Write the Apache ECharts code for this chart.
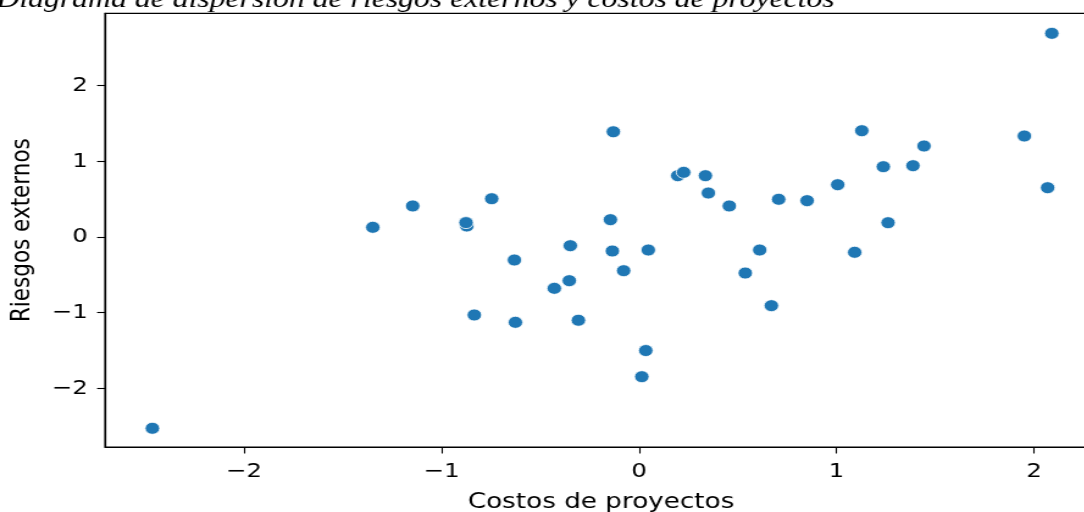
<!DOCTYPE html>
<html>
<head>
<meta charset="utf-8">
<script src="https://cdn.jsdelivr.net/npm/echarts@6/dist/echarts.min.js"></script>
<style>
  html, body { margin: 0; padding: 0; background: #fff; overflow: hidden; width: 1084px; height: 512px; }
  /* the figure is drawn slightly narrower and widened horizontally, as in the printed figure */
  #chart { width: 920px; height: 512px; transform: scaleX(1.22); transform-origin: 0 0; }
</style>
</head>
<body>
<div id="chart"></div>
<script>
// Costos de proyectos (x) and Riesgos externos (y), standardised values
const costos = [
  -2.464, -1.348, -1.146, -0.872, -0.876, -0.746, -0.834, -0.631, -0.626, -0.429,
  -0.353, -0.348, -0.307, -0.145, -0.135, -0.130, -0.078, 0.014, 0.034, 0.047,
  0.196, 0.226, 0.336, 0.351, 0.457, 0.538, 0.611, 0.670, 0.707, 0.851,
  1.006, 1.092, 1.128, 1.237, 1.261, 1.387, 1.443, 1.951, 2.069, 2.090
];
const riesgos = [
  -2.527, 0.128, 0.410, 0.145, 0.190, 0.506, -1.030, -0.304, -1.127, -0.678,
  -0.577, -0.115, -1.100, 0.229, -0.185, 1.390, -0.445, -1.845, -1.500, -0.172,
  0.810, 0.854, 0.810, 0.581, 0.410, -0.476, -0.172, -0.907, 0.498, 0.480,
  0.691, -0.202, 1.404, 0.929, 0.189, 0.942, 1.202, 1.334, 0.651, 2.690
];
const xTicks = [-2, -1, 0, 1, 2];
const yTicks = [-2, -1, 0, 1, 2];

const titleText = 'Diagrama de dispersión de riesgos externos y costos de proyectos';
const xName = 'Costos de proyectos';
const yName = 'Riesgos externos';

const points = costos.map((c, i) => [c, riesgos[i]]);
const minus = v => String(v).replace('-', '\u2212');

const tickFont = { fontFamily: 'DejaVu Sans', fontSize: 20, color: '#000' };
const nameFont = { fontFamily: 'DejaVu Sans', fontSize: 21.5, color: '#000' };

const chart = echarts.init(document.getElementById('chart'), null, { renderer: 'canvas' });
chart.setOption({
  animation: false,
  backgroundColor: '#fff',
  title: {
    text: titleText,
    left: -3,
    top: -13,
    padding: 0,
    textStyle: { fontFamily: 'Liberation Serif', fontStyle: 'italic', fontWeight: 'normal', fontSize: 26, color: '#000' }
  },
  grid: {
    left: 86.07, right: 20.8, top: 13.3, bottom: 65,
    containLabel: false, outerBoundsMode: 'none',
    show: true, borderColor: '#000', borderWidth: 1.2, backgroundColor: 'transparent'
  },
  xAxis: {
    type: 'value', min: -2.704, max: 2.319,
    name: xName, nameLocation: 'middle', nameGap: 44, nameTextStyle: nameFont,
    splitLine: { show: false },
    axisLine: { onZero: false, lineStyle: { color: '#000', width: 1.2 } },
    axisTick: { customValues: xTicks, length: 6.5, lineStyle: { color: '#000', width: 1.1 } },
    axisLabel: Object.assign({ customValues: xTicks, margin: 15, formatter: minus }, tickFont)
  },
  yAxis: {
    type: 'value', min: -2.774, max: 2.955,
    name: yName, nameLocation: 'middle', nameGap: 57, nameTextStyle: nameFont,
    splitLine: { show: false },
    axisLine: { onZero: false, lineStyle: { color: '#000', width: 1.2 } },
    axisTick: { customValues: yTicks, length: 6.5, lineStyle: { color: '#000', width: 1.1 } },
    axisLabel: Object.assign({ customValues: yTicks, margin: 14, formatter: minus }, tickFont)
  },
  series: [{
    type: 'scatter',
    data: points,
    symbol: 'circle',
    symbolSize: 12,
    itemStyle: { color: '#1f77b4', borderColor: '#fff', borderWidth: 0.8, opacity: 1 }
  }]
});
</script>
</body>
</html>
